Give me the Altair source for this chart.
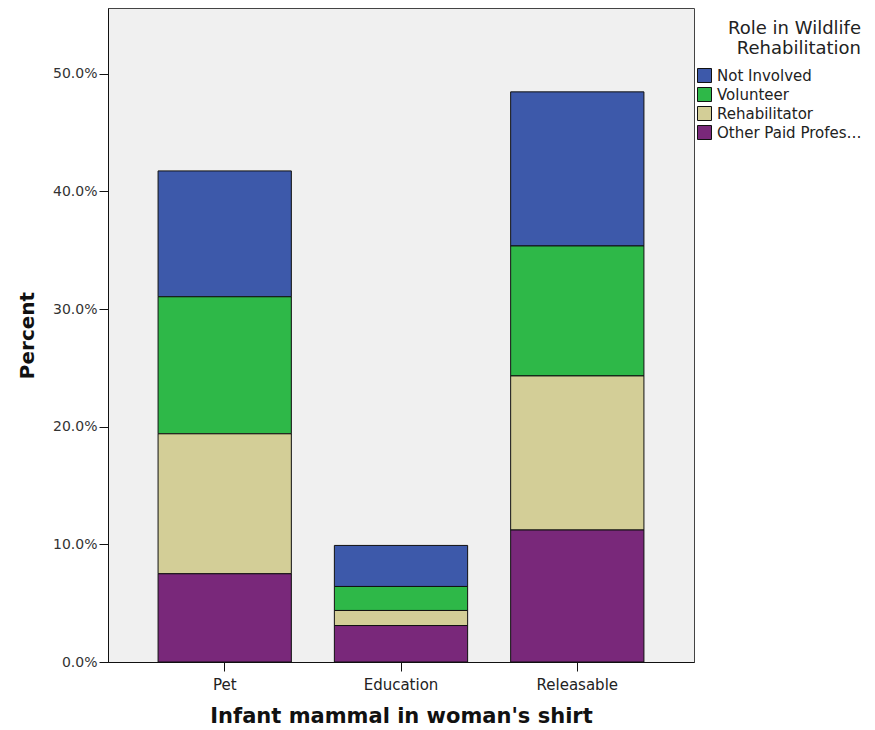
import altair as alt
import pandas as pd

categories = ["Pet", "Education", "Releasable"]
roles = ["Not Involved", "Volunteer", "Rehabilitator", "Other Paid Professional"]
stack_order = [3, 2, 1, 0]  # bottom of stack = 0
colors = ["#3d59aa", "#2eb848", "#d3ce97", "#79287a"]

# percent of total per role, per category
not_involved = [10.70, 3.49, 13.10]
volunteer = [11.65, 2.04, 11.05]
rehabilitator = [11.90, 1.28, 13.10]
other_paid = [7.50, 3.10, 11.22]

series = [not_involved, volunteer, rehabilitator, other_paid]
rows = []
for role, order, vals in zip(roles, stack_order, series):
    for cat, v in zip(categories, vals):
        rows.append({"category": cat, "role": role, "order": order, "value": v / 100.0})
df = pd.DataFrame(rows)

chart = (
    alt.Chart(df)
    .mark_bar(stroke="#111111", strokeWidth=1)
    .encode(
        x=alt.X(
            "category:N",
            sort=categories,
            title="Infant mammal in woman's shirt",
            scale=alt.Scale(paddingInner=0.244, paddingOuter=0.284),
            axis=alt.Axis(
                labelAngle=0,
                labelFontSize=15,
                labelColor="#222222",
                labelPadding=6,
                tickSize=9,
                tickColor="#111111",
                domainColor="#111111",
                titleFontSize=21,
                titleFontWeight="bold",
                titleColor="#111111",
                titlePadding=13,
            ),
        ),
        y=alt.Y(
            "value:Q",
            stack="zero",
            title="Percent",
            scale=alt.Scale(domain=[0, 0.556], nice=False),
            axis=alt.Axis(
                values=[0, 0.1, 0.2, 0.3, 0.4, 0.5],
                format=".1%",
                grid=False,
                labelFontSize=14,
                labelColor="#333333",
                labelPadding=2,
                tickSize=9,
                tickColor="#111111",
                domainColor="#111111",
                titleFontSize=20,
                titleFontWeight="bold",
                titleColor="#111111",
                titlePadding=15,
            ),
        ),
        color=alt.Color(
            "role:N",
            scale=alt.Scale(domain=roles, range=colors),
            legend=alt.Legend(
                title=["Role in Wildlife", "Rehabilitation"],
                orient="none",
                legendX=589,
                legendY=12,
                titleFontSize=18,
                titleLineHeight=20,
                titleFontWeight="normal",
                titleColor="#222222",
                titleAnchor="end",
                titleAlign="right",
                titlePadding=10,
                labelFontSize=15,
                labelColor="#222222",
                labelLimit=146,
                labelOffset=5,
                symbolType="square",
                symbolSize=196,
                symbolStrokeColor="#111111",
                symbolStrokeWidth=1,
                symbolOpacity=1,
                rowPadding=0,
                padding=0,
            ),
        ),
        order=alt.Order("order:Q", sort="ascending"),
    )
    .properties(
        width=586,
        height=654,
        autosize=alt.AutoSizeParams(type="none"),
        padding={"left": 100, "top": 0, "right": 172, "bottom": 66},
        background="white",
    )
    .configure(font="DejaVu Sans")
    .configure_view(fill="#f0f0f0", stroke="#444444", strokeWidth=1)
)

chart.save("out.html", embed_options={"renderer": "svg", "actions": False})
